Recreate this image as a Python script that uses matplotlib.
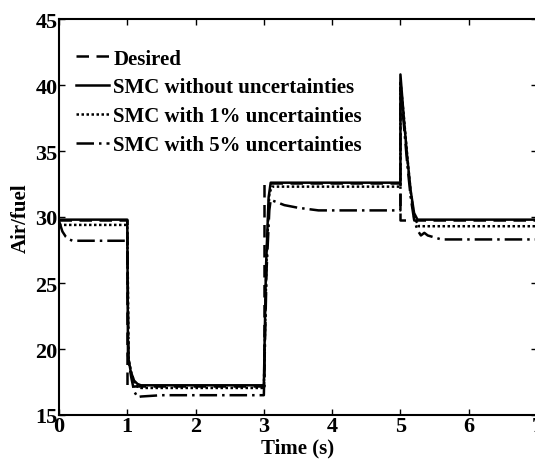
import matplotlib
matplotlib.use("Agg")
import matplotlib.pyplot as plt

plt.rcParams['font.family'] = ['Liberation Serif', 'DejaVu Serif']
plt.rcParams['font.weight'] = 'bold'

# Desired air/fuel ratio (step reference)
t_des = [0, 1, 1, 3, 3, 5, 5, 7]
y_des = [29.8, 29.8, 17.2, 17.2, 32.6, 32.6, 29.8, 29.8]

# SMC without uncertainties
t_smc0 = [0, 1.0, 1.01, 1.05, 1.1, 1.15, 1.2, 3.0, 3.03, 3.07, 3.1, 5.0, 5.0, 5.05, 5.1, 5.15, 5.2, 5.25, 7]
y_smc0 = [29.8, 29.8, 19.5, 18.3, 17.6, 17.35, 17.25, 17.25, 26.0, 31.5, 32.6, 32.6, 40.8, 37.5, 34.5, 32.0, 30.3, 29.8, 29.8]

# SMC with 1% uncertainties
t_smc1 = [0, 1.0, 1.02, 1.06, 1.1, 1.15, 1.2, 3.0, 3.04, 3.08, 3.12, 5.0, 5.0, 5.05, 5.1, 5.15, 5.2, 5.27, 7]
y_smc1 = [29.4, 29.4, 19.2, 18.2, 17.5, 17.15, 17.05, 17.05, 27.0, 31.8, 32.3, 32.3, 40.3, 37.6, 34.6, 31.9, 30.0, 29.3, 29.3]

# SMC with 5% uncertainties
t_smc5 = [0, 0.05, 0.1, 0.15, 0.2, 1.0, 1.02, 1.06, 1.1, 1.15, 1.2, 1.5, 3.0, 3.04, 3.08, 3.1, 3.3, 3.5, 3.8,
          5.0, 5.0, 5.05, 5.1, 5.15, 5.2, 5.25, 5.3, 5.35, 5.4, 5.6, 7]
y_smc5 = [29.7, 28.9, 28.5, 28.3, 28.2, 28.2, 19.0, 17.8, 16.8, 16.35, 16.4, 16.5, 16.5, 26.0, 30.5, 31.3, 30.9, 30.7, 30.5,
          30.5, 39.8, 37.0, 34.0, 31.5, 29.8, 29.0, 28.6, 28.8, 28.6, 28.3, 28.3]

labels = ['Desired', 'SMC without uncertainties', 'SMC with 1% uncertainties', 'SMC with 5% uncertainties']
x_ticks = [0, 1, 2, 3, 4, 5, 6, 7]
y_ticks = [15, 20, 25, 30, 35, 40, 45]

fig = plt.figure(figsize=(5.35, 4.64), dpi=100)
ax = fig.add_axes([59/535, 48/464, 478/535, 396/464])

lw = 1.8
ax.plot(t_des, y_des, color='black', lw=lw, linestyle=(0, (5, 3)), label=labels[0])
ax.plot(t_smc0, y_smc0, color='black', lw=lw, linestyle='-', label=labels[1])
ax.plot(t_smc1, y_smc1, color='black', lw=lw, linestyle=(0, (1, 1)), label=labels[2])
ax.plot(t_smc5, y_smc5, color='black', lw=lw, linestyle=(0, (7, 2, 1, 2)), label=labels[3])

ax.set_xlim(0, 7)
ax.set_ylim(15, 45)
ax.set_xticks(x_ticks)
ax.set_yticks(y_ticks)
ax.tick_params(direction='in', length=4, width=1, top=True, right=True, labelsize=16, pad=1)
for lab in ax.get_xticklabels() + ax.get_yticklabels():
    lab.set_fontweight('bold')
for s in ax.spines.values():
    s.set_linewidth(1.5)

ax.set_xlabel('Time (s)', fontsize=15, fontweight='bold', labelpad=1)
ax.set_ylabel('Air/fuel', fontsize=15, fontweight='bold', labelpad=3)

leg = ax.legend(loc='upper left', bbox_to_anchor=(0.035, 0.925), frameon=False,
                prop={'size': 15, 'weight': 'bold'}, handlelength=1.6, handletextpad=0.2,
                labelspacing=0.42, borderpad=0, borderaxespad=0)

fig.savefig('out.png', dpi=100)
